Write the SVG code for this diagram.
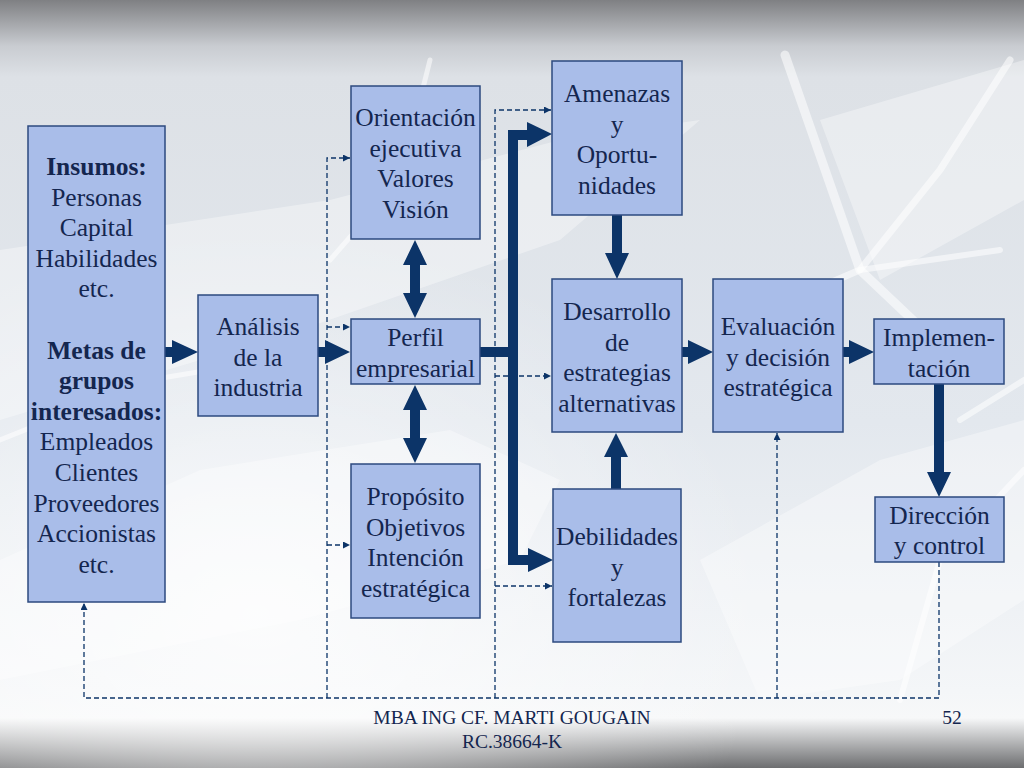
<svg xmlns="http://www.w3.org/2000/svg" width="1024" height="768" viewBox="0 0 1024 768">
<defs>
<linearGradient id="bg" x1="0" y1="0" x2="0" y2="1">
<stop offset="0" stop-color="#7f8083"/>
<stop offset="0.06" stop-color="#c9ccd1"/>
<stop offset="0.1" stop-color="#dde1e6"/>
<stop offset="0.55" stop-color="#e3e8ee"/>
<stop offset="0.9" stop-color="#f4f6f8"/>
<stop offset="0.935" stop-color="#f7f8f9"/>
<stop offset="1" stop-color="#6d6e70"/>
</linearGradient>
<radialGradient id="glow" cx="0.25" cy="0.8" r="0.5">
<stop offset="0" stop-color="#ffffff" stop-opacity="0.75"/>
<stop offset="1" stop-color="#ffffff" stop-opacity="0"/>
</radialGradient>
<marker id="dh" viewBox="0 0 10 10" refX="10" refY="5" markerWidth="8" markerHeight="7" markerUnits="userSpaceOnUse" orient="auto">
<path d="M0,0 L10,5 L0,10 z" fill="#0c3468"/>
</marker>
<style>
.box{fill:#a9bde9;stroke:#2d4a7f;stroke-width:1.5}
.t{font-family:"Liberation Serif","Times New Roman",serif;font-size:25.5px;fill:#14264f;text-anchor:middle}
.b{font-weight:bold}
.ft{font-family:"Liberation Serif","Times New Roman",serif;font-size:19.5px;fill:#14264f;text-anchor:middle}
.thick{fill:#0c3468}
.bus{fill:none;stroke:#0c3468;stroke-width:10;stroke-linejoin:miter}
.dash{fill:none;stroke:#0c3468;stroke-width:1.3;stroke-dasharray:5,3}
.dasha{fill:none;stroke:#0c3468;stroke-width:1.3;stroke-dasharray:5,3;marker-end:url(#dh)}
.cr{fill:#ffffff;opacity:0.35}
.cl{fill:none;stroke:#ffffff;stroke-opacity:0.55;stroke-linecap:round}
</style>
</defs>
<rect x="0" y="0" width="1024" height="768" fill="url(#bg)"/>
<rect x="0" y="0" width="1024" height="768" fill="url(#glow)"/>
<g id="background">
<polygon class="cr" points="0,250 330,200 560,140 700,120 560,240 300,330 0,420"/>
<polygon class="cr" points="0,560 200,470 450,430 560,480 520,560 300,620 0,680"/>
<polygon class="cr" points="700,560 880,460 1024,420 1024,600 900,680 760,700"/>
<polygon class="cr" points="820,120 1024,60 1024,200 880,280"/>
<polyline class="cl" stroke-width="9" points="785,55 860,270 955,360"/>
<polyline class="cl" stroke-width="7" points="1010,60 940,170 860,270 720,330"/>
<polyline class="cl" stroke-width="6" points="860,270 1000,250"/>
<polyline class="cl" stroke-width="5" points="430,60 400,180 330,260"/>
<polyline class="cl" stroke-width="5" points="0,440 150,380 270,360"/>
<polyline class="cl" stroke-width="6" points="960,420 1024,380"/>
<polyline class="cl" stroke-width="6" points="900,700 940,560 1024,470"/>
</g>
<g id="connectors">
<!-- thick arrows -->
<polygon class="thick" points="165,347 172,347 172,340 198,352 172,364 172,357 165,357"/>
<polygon class="thick" points="318,347 325,347 325,340 350,352 325,364 325,357 318,357"/>
<polyline class="bus" points="480,352 513,352"/>
<polyline class="bus" points="530,135 513,135 513,560 530,560"/>
<polygon class="thick" points="527,122 552,134 527,147"/>
<polygon class="thick" points="528,548 553,560 528,572"/>
<polygon class="thick" points="415,240 427,265 420,265 420,293 427,293 415,318 403,293 410,293 410,265 403,265"/>
<polygon class="thick" points="415,385 427,410 420,410 420,438 427,438 415,463 403,438 410,438 410,410 403,410"/>
<polygon class="thick" points="612,215 622,215 622,253 629,253 617,279 605,253 612,253"/>
<polygon class="thick" points="611,489 621,489 621,457 628,457 616,433 604,457 611,457"/>
<polygon class="thick" points="682,347 688,347 688,340 713,352 688,364 688,357 682,357"/>
<polygon class="thick" points="843,347 849,347 849,340 874,352 849,364 849,357 843,357"/>
<polygon class="thick" points="934,384 944,384 944,472 951,472 939,497 927,472 934,472"/>
<!-- dashed feedback -->
<polyline class="dasha" points="939,562 939,698 84,698 84,603"/>
<polyline class="dasha" points="777,698 777,433"/>
<polyline class="dasha" points="495,698 495,110 551,110"/>
<polyline class="dasha" points="495,376 551,376"/>
<polyline class="dasha" points="495,586 552,586"/>
<polyline class="dasha" points="327,698 327,158 350,158"/>
<polyline class="dasha" points="327,327 350,327"/>
<polyline class="dasha" points="327,545 350,545"/>
</g>
<g id="insumos">
<rect class="box" x="28" y="126" width="137" height="476"/>
<text class="t"><tspan class="b" x="96.5" y="175">Insumos:</tspan><tspan x="96.5" y="205.6">Personas</tspan><tspan x="96.5" y="236.2">Capital</tspan><tspan x="96.5" y="266.8">Habilidades</tspan><tspan x="96.5" y="297.4">etc.</tspan><tspan class="b" x="96.5" y="358.6">Metas de</tspan><tspan class="b" x="96.5" y="389.2">grupos</tspan><tspan class="b" x="96.5" y="419.8">interesados:</tspan><tspan x="96.5" y="450.4">Empleados</tspan><tspan x="96.5" y="481">Clientes</tspan><tspan x="96.5" y="511.6">Proveedores</tspan><tspan x="96.5" y="542.2">Accionistas</tspan><tspan x="96.5" y="572.8">etc.</tspan></text>
</g>
<g id="analisis">
<rect class="box" x="198" y="295" width="120" height="121"/>
<text class="t"><tspan x="258" y="335">Análisis</tspan><tspan x="258" y="365.5">de la</tspan><tspan x="258" y="396">industria</tspan></text>
</g>
<g id="orientacion">
<rect class="box" x="351" y="86" width="129" height="153"/>
<text class="t"><tspan x="415.5" y="126">Orientación</tspan><tspan x="415.5" y="156.5">ejecutiva</tspan><tspan x="415.5" y="187">Valores</tspan><tspan x="415.5" y="217.5">Visión</tspan></text>
</g>
<g id="perfil">
<rect class="box" x="351" y="319" width="129" height="65"/>
<text class="t"><tspan x="415.5" y="346">Perfil</tspan><tspan x="415.5" y="376.5">empresarial</tspan></text>
</g>
<g id="proposito">
<rect class="box" x="351" y="464" width="129" height="154"/>
<text class="t"><tspan x="415.5" y="505">Propósito</tspan><tspan x="415.5" y="535.5">Objetivos</tspan><tspan x="415.5" y="566">Intención</tspan><tspan x="415.5" y="596.5">estratégica</tspan></text>
</g>
<g id="amenazas">
<rect class="box" x="552" y="61" width="130" height="154"/>
<text class="t"><tspan x="617" y="102">Amenazas</tspan><tspan x="617" y="132.5">y</tspan><tspan x="617" y="163">Oportu-</tspan><tspan x="617" y="193.5">nidades</tspan></text>
</g>
<g id="desarrollo">
<rect class="box" x="552" y="279" width="130" height="153"/>
<text class="t"><tspan x="617" y="320">Desarrollo</tspan><tspan x="617" y="350.5">de</tspan><tspan x="617" y="381">estrategias</tspan><tspan x="617" y="411.5">alternativas</tspan></text>
</g>
<g id="debilidades">
<rect class="box" x="553" y="489" width="128" height="153"/>
<text class="t"><tspan x="617" y="545">Debilidades</tspan><tspan x="617" y="575.5">y</tspan><tspan x="617" y="606">fortalezas</tspan></text>
</g>
<g id="evaluacion">
<rect class="box" x="713" y="279" width="130" height="153"/>
<text class="t"><tspan x="778" y="335">Evaluación</tspan><tspan x="778" y="365.5">y decisión</tspan><tspan x="778" y="396">estratégica</tspan></text>
</g>
<g id="implementacion">
<rect class="box" x="874" y="319" width="130" height="65"/>
<text class="t"><tspan x="939" y="346">Implemen-</tspan><tspan x="939" y="376.5">tación</tspan></text>
</g>
<g id="direccion">
<rect class="box" x="875" y="497" width="129" height="65"/>
<text class="t"><tspan x="939.5" y="523.5">Dirección</tspan><tspan x="939.5" y="554">y control</tspan></text>
</g>
<g id="footer">
<text class="ft"><tspan x="512" y="724">MBA ING CF. MARTI GOUGAIN</tspan><tspan x="512" y="748">RC.38664-K</tspan></text>
<text class="ft" x="952" y="724">52</text>
</g>
</svg>
